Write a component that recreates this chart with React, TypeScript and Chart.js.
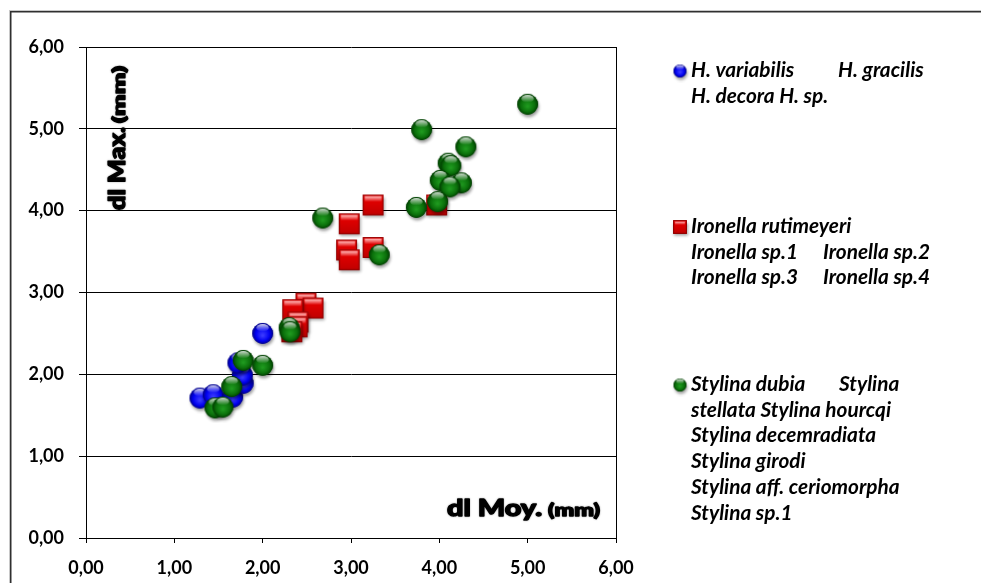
import React, { useEffect, useRef } from 'react';
import { Chart, registerables } from 'chart.js';
Chart.register(...registerables);

// ---------- data ----------
const axisMin = 0;
const axisMax = 6;
const axisStep = 1;

// H. group – blue
const hX = [1.29, 1.44, 1.66, 1.78, 1.77, 1.72, 2.0];
const hY = [1.71, 1.75, 1.72, 1.89, 1.99, 2.14, 2.5];

// Ironella – red
const iX = [2.49, 2.57, 2.34, 2.4, 2.39, 2.33, 3.25, 2.98, 2.95, 2.98, 3.25, 3.97];
const iY = [2.87, 2.81, 2.79, 2.64, 2.58, 2.52, 4.07, 3.84, 3.52, 3.4, 3.55, 4.07];

// Stylina – green
const sX = [1.65, 1.46, 1.55, 1.78, 2.0, 2.3, 2.31, 2.68, 3.32, 5.0, 3.8, 4.3, 4.1, 4.13, 4.01, 4.25, 4.12, 3.74, 3.98];
const sY = [1.85, 1.59, 1.6, 2.17, 2.11, 2.57, 2.52, 3.91, 3.46, 5.3, 4.99, 4.78, 4.58, 4.55, 4.37, 4.34, 4.29, 4.04, 4.11];

const legendH = [['H. variabilis', 'H. gracilis'], ['H. decora H. sp.']];
const legendI = [['Ironella rutimeyeri'], ['Ironella sp.1', 'Ironella sp.2'], ['Ironella sp.3', 'Ironella sp.4']];
const legendS = [
  ['Stylina dubia', 'Stylina'],
  ['stellata Stylina hourcqi'],
  ['Stylina decemradiata'],
  ['Stylina girodi'],
  ['Stylina aff. ceriomorpha'],
  ['Stylina sp.1'],
];

const xTitle = 'dl Moy.';
const yTitle = 'dl Max.';
const unitLabel = '(mm)';

const fmt = (v: number) => v.toFixed(2).replace('.', ',');
const pts = (xs: number[], ys: number[]) => xs.map((x, i) => ({ x, y: ys[i] }));

// ---------- marker sprites ----------
function sphere(r: number, light: string, base: string, dark: string) {
  const pad = 5;
  const S = Math.ceil(2 * r + pad * 2);
  const c = document.createElement('canvas');
  c.width = S;
  c.height = S;
  const g = c.getContext('2d')!;
  const cx = S / 2, cy = S / 2;
  g.save();
  g.shadowColor = 'rgba(0,0,0,0.38)';
  g.shadowBlur = 3;
  g.shadowOffsetX = 1;
  g.shadowOffsetY = 2.5;
  g.beginPath();
  g.arc(cx, cy, r, 0, Math.PI * 2);
  g.fillStyle = dark;
  g.fill();
  g.restore();
  const grad = g.createRadialGradient(cx, cy + r * 0.2, r * 0.05, cx, cy, r);
  grad.addColorStop(0, light);
  grad.addColorStop(0.65, base);
  grad.addColorStop(1, dark);
  g.beginPath();
  g.arc(cx, cy, r, 0, Math.PI * 2);
  g.fillStyle = grad;
  g.fill();
  const hg = g.createLinearGradient(0, cy - r * 0.95, 0, cy - r * 0.2);
  hg.addColorStop(0, 'rgba(255,255,255,0.85)');
  hg.addColorStop(1, 'rgba(255,255,255,0)');
  g.beginPath();
  g.ellipse(cx, cy - r * 0.55, r * 0.6, r * 0.36, 0, 0, Math.PI * 2);
  g.fillStyle = hg;
  g.fill();
  return c;
}

function square(h: number) {
  const pad = 5;
  const S = Math.ceil(2 * h + pad * 2);
  const c = document.createElement('canvas');
  c.width = S;
  c.height = S;
  const g = c.getContext('2d')!;
  const x0 = S / 2 - h, y0 = S / 2 - h, w = 2 * h;
  g.save();
  g.shadowColor = 'rgba(0,0,0,0.38)';
  g.shadowBlur = 3;
  g.shadowOffsetX = 1;
  g.shadowOffsetY = 2.5;
  g.fillStyle = '#900000';
  g.fillRect(x0, y0, w, w);
  g.restore();
  const grad = g.createLinearGradient(0, y0, 0, y0 + w);
  grad.addColorStop(0, '#ff2a2a');
  grad.addColorStop(0.3, '#e00000');
  grad.addColorStop(1, '#c00000');
  g.fillStyle = grad;
  g.fillRect(x0, y0, w, w);
  const hg = g.createLinearGradient(0, y0 + 1, 0, y0 + w * 0.35);
  hg.addColorStop(0, 'rgba(255,255,255,0.75)');
  hg.addColorStop(1, 'rgba(255,255,255,0)');
  g.fillStyle = hg;
  g.fillRect(x0 + 2, y0 + 1.5, w - 4, w * 0.3);
  g.strokeStyle = '#8a0000';
  g.lineWidth = 1;
  g.strokeRect(x0 + 0.5, y0 + 0.5, w - 1, w - 1);
  return c;
}

// draw a heavy text piece horizontally scaled to a given width
function heavyText(ctx: CanvasRenderingContext2D, text: string, font: string, x: number, y: number, targetW: number) {
  ctx.font = font;
  const w = ctx.measureText(text).width;
  const k = targetW / w;
  ctx.save();
  ctx.translate(x, y);
  ctx.scale(k, 1);
  ctx.lineJoin = 'round';
  ctx.lineWidth = 1.3;
  ctx.strokeStyle = '#000';
  ctx.strokeText(text, 0, 0);
  ctx.fillText(text, 0, 0);
  ctx.restore();
}

const TICK_FONT = { family: 'Lato', size: 18, weight: 'bold' as const };

export default function App() {
  const ref = useRef<HTMLCanvasElement | null>(null);

  useEffect(() => {
    const canvas = ref.current!;
    const blueBig = sphere(10.4, '#3a3aff', '#0000f0', '#00008a');
    const greenBig = sphere(10.4, '#1f9a1f', '#0b700b', '#003f00');
    const redBig = square(10.3);
    const blueSmall = sphere(6.5, '#3a3aff', '#0000f0', '#00008a');
    const greenSmall = sphere(6.5, '#1f9a1f', '#0b700b', '#003f00');
    const redSmall = square(6.8);

    const decor = {
      id: 'decor',
      beforeDraw(chart: any) {
        const ctx = chart.ctx;
        ctx.save();
        ctx.fillStyle = '#ffffff';
        ctx.fillRect(0, 0, chart.width, chart.height);
        ctx.strokeStyle = '#c8c8c8';
        ctx.lineWidth = 1;
        ctx.strokeRect(9.5, 10.5, 2000, 2000);
        ctx.strokeStyle = '#303030';
        ctx.lineWidth = 1.5;
        ctx.strokeRect(10.75, 11.75, 2000, 2000);
        ctx.restore();
      },
      afterDraw(chart: any) {
        const ctx = chart.ctx;
        const a = chart.chartArea;
        ctx.save();
        // right border of plot area
        ctx.strokeStyle = '#000';
        ctx.lineWidth = 1;
        ctx.beginPath();
        ctx.moveTo(Math.round(a.right) + 0.5, a.top);
        ctx.lineTo(Math.round(a.right) + 0.5, a.bottom);
        ctx.stroke();

        // axis titles (inside plot area)
        ctx.fillStyle = '#000';
        ctx.shadowColor = 'rgba(0,0,0,0.3)';
        ctx.shadowBlur = 2;
        ctx.textBaseline = 'alphabetic';
        ctx.textAlign = 'left';
        const big = '900 23px Lato';
        const small = '900 17px Lato';
        // x title
        heavyText(ctx, xTitle, big, 447, 516, 95);
        heavyText(ctx, unitLabel, small, 548, 516, 52);
        // y title rotated
        ctx.save();
        ctx.translate(125, 210);
        ctx.rotate(-Math.PI / 2);
        heavyText(ctx, yTitle, big, 0, 0, 83);
        heavyText(ctx, unitLabel, small, 87, 0, 57);
        ctx.restore();
        ctx.shadowBlur = 0;
        ctx.shadowColor = 'transparent';

        // legend
        ctx.font = 'italic bold 20.8px Lato';
        const groups: [HTMLCanvasElement, number, number, string[][], number][] = [
          [blueSmall, 680, 71, legendH, 838],
          [redSmall, 680, 227, legendI, 823],
          [greenSmall, 680, 385, legendS, 839],
        ];
        for (const [sprite, mx, my, lines, col2] of groups) {
          ctx.drawImage(sprite, mx - sprite.width / 2, my - sprite.height / 2);
          lines.forEach((segs, li) => {
            const by = my + 6 + li * 25.7;
            ctx.fillText(segs[0], 691, by);
            if (segs[1]) ctx.fillText(segs[1], col2, by);
          });
        }
        ctx.restore();
      },
    };

    const chart = new Chart(canvas, {
      type: 'scatter',
      data: {
        datasets: [
          { label: 'H.', data: pts(hX, hY), pointStyle: blueBig as any, pointRadius: 10, order: 3 },
          { label: 'Ironella', data: pts(iX, iY), pointStyle: redBig as any, pointRadius: 10, order: 2 },
          { label: 'Stylina', data: pts(sX, sY), pointStyle: greenBig as any, pointRadius: 10, order: 1 },
        ],
      },
      options: {
        responsive: false,
        animation: false,
        events: [],
        layout: { padding: { left: 0, top: 47, right: 365, bottom: 0 } },
        plugins: { legend: { display: false }, tooltip: { enabled: false } },
        scales: {
          x: {
            type: 'linear',
            min: axisMin,
            max: axisMax,
            ticks: { stepSize: axisStep, color: '#000', font: TICK_FONT, padding: 14, callback: (v: any) => fmt(Number(v)) },
            grid: { drawOnChartArea: false, drawTicks: true, tickLength: 5, color: '#000' },
            border: { display: true, color: '#000', width: 1 },
            afterFit: (s: any) => { s.height = 45; },
          },
          y: {
            type: 'linear',
            min: axisMin,
            max: axisMax,
            ticks: { stepSize: axisStep, color: '#000', font: TICK_FONT, padding: 15, callback: (v: any) => fmt(Number(v)) },
            grid: { drawOnChartArea: true, drawTicks: true, tickLength: 7, color: '#000' },
            border: { display: true, color: '#000', width: 1 },
            afterFit: (s: any) => { s.width = 86; },
          },
        },
      },
      plugins: [decor],
    } as any);
    return () => chart.destroy();
  }, []);

  return (
    <div style={{ position: 'absolute', left: 0, top: 0, width: 981, height: 583, overflow: 'hidden', background: '#fff' }}>
      <canvas ref={ref} width={981} height={583} style={{ display: 'block' }} />
    </div>
  );
}
